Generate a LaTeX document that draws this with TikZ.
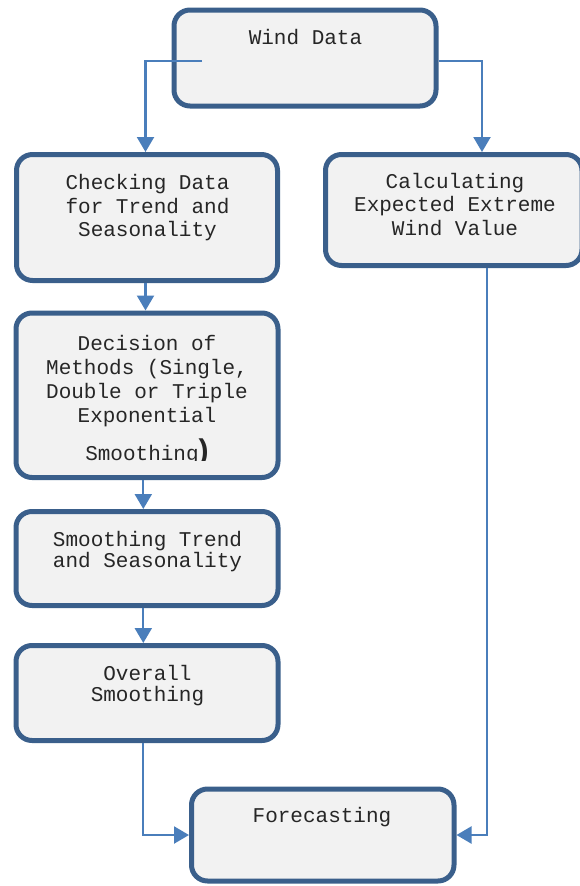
\documentclass[tikz,border=0pt]{standalone}
\usepackage{fontspec}
\setmonofont{Liberation Mono}
\newfontfamily\parfont{Liberation Sans}
\usetikzlibrary{arrows.meta}
\definecolor{boxline}{HTML}{3A5F8B}
\definecolor{boxfill}{HTML}{F2F2F2}
\definecolor{connblue}{HTML}{4A7EBB}
\definecolor{txtcol}{HTML}{262626}
\begin{document}
\begin{tikzpicture}[x=1pt,y=-1pt,
  box/.style={draw=boxline, line width=5pt, fill=boxfill, rounded corners=16pt, inner sep=0pt},
  txt/.style={font=\ttfamily\fontsize{21}{24}\selectfont, text=txtcol, align=center, inner sep=0pt, anchor=base},
  conn/.style={draw=connblue, line width=2.2pt, -{Triangle[length=15pt,width=17pt]}}
]
\useasboundingbox (0,0) rectangle (579,886);
% boxes
\node[box, minimum width=262pt, minimum height=96pt] (wind) at (305,58) {};
\node[box, minimum width=261pt, minimum height=126pt] (check) at (147,217.5) {};
\node[box, minimum width=256.5pt, minimum height=111pt] (calc) at (453.75,210) {};
\node[box, minimum width=262pt, minimum height=164.5pt] (dec) at (147,395.25) {};
\node[box, minimum width=262pt, minimum height=94pt] (smooth) at (147,558.5) {};
\node[box, minimum width=262pt, minimum height=95pt] (overall) at (147,693) {};
\node[box, minimum width=262.5pt, minimum height=92pt] (fore) at (322.75,835) {};
% connectors
\coordinate (wl) at (202,61);
\draw[conn] (wl) -| ([xshift=-1.5pt]check.north);
\draw[conn] (wind.east |- wl) -| ([xshift=28.25pt]calc.north);
\draw[conn] ([xshift=-1.5pt]check.south) -- ([xshift=-1.5pt]dec.north);
\draw[conn] ([xshift=-3.7pt]dec.south) -- ([xshift=-3.7pt]smooth.north);
\draw[conn] ([xshift=-3.7pt]smooth.south) -- ([xshift=-3.7pt]overall.north);
\draw[conn] ([xshift=-4.3pt]overall.south) |- (fore.west);
\draw[conn] ([xshift=33pt]calc.south) |- (fore.east);
% texts (anchor base = baseline of last line)
\node[txt] (windT) at (305.5,44) {Wind Data};
\node[txt, font=\ttfamily\fontsize{21}{23.7}\selectfont] (checkT) at (147.5,236.7) {Checking Data\\for Trend and\\Seasonality};
\node[txt, font=\ttfamily\fontsize{21}{23.3}\selectfont] (calcT) at (455,235) {Calculating\\Expected Extreme\\Wind Value};
\node[txt, font=\ttfamily\fontsize{21}{24.2}\selectfont] (decT) at (147,422.7) {Decision of\\Methods (Single,\\Double or Triple\\Exponential};
\begin{scope}
  \clip (0,0) rectangle (579,460);
  \node[txt] (decT2) at (147,460) {Smoothing{\parfont\bfseries\fontsize{30}{30}\selectfont)}};
\end{scope}
\node[txt, font=\ttfamily\fontsize{21}{20.7}\selectfont] (smoothT) at (147.5,567.3) {Smoothing Trend\\and Seasonality};
\node[txt, font=\ttfamily\fontsize{21}{21.7}\selectfont] (overallT) at (147.5,701.7) {Overall\\Smoothing};
\node[txt] (foreT) at (322,822) {Forecasting};
\end{tikzpicture}
\end{document}
